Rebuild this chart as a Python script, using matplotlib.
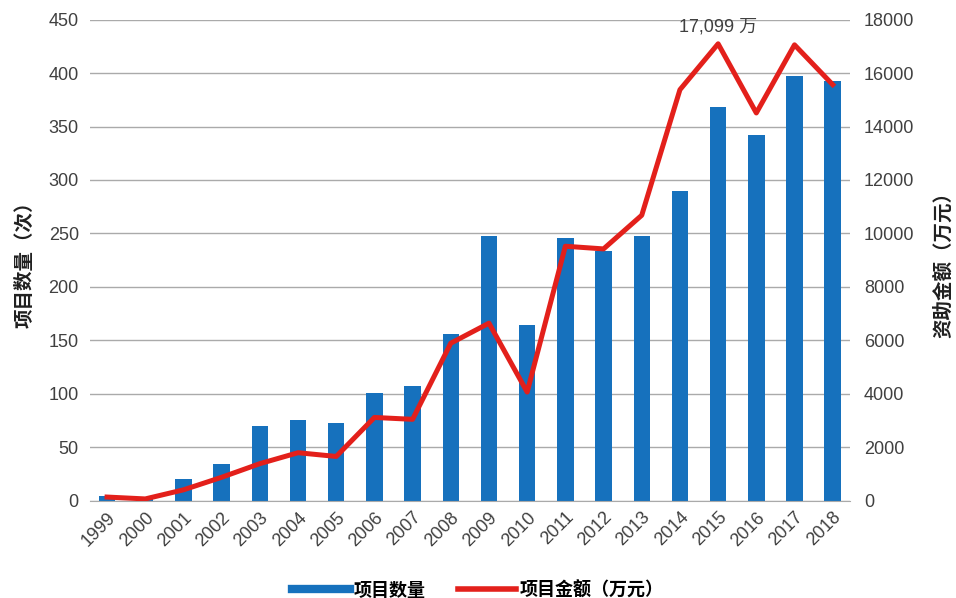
import matplotlib.pyplot as plt
import numpy as np
from matplotlib.lines import Line2D

plt.rcParams['font.family'] = ['Liberation Sans', 'Noto Sans CJK SC', 'DejaVu Sans']

years = [str(y) for y in range(1999, 2019)]
counts = [4, 1, 20, 34, 70, 75, 73, 101, 107, 156, 248, 164, 246, 234, 248,
          290, 368, 342, 397, 393]
funding = [130, 60, 400, 870, 1380, 1790, 1650, 3110, 3040, 5890, 6640, 4060,
           9520, 9420, 10680, 15380, 17099, 14510, 17060, 15570]

bar_color = '#1671bd'
line_color = '#e3201b'
text_color = '#404040'
cjk = ['Noto Sans CJK SC', 'DejaVu Sans']

fig = plt.figure(figsize=(9.56, 5.98), dpi=100)
ax = fig.add_axes([0.094, 0.163, 0.795, 0.804])
ax2 = ax.twinx()

x = np.arange(len(years))
ax.bar(x, counts, width=0.43, color=bar_color, zorder=2)
ax2.plot(x, funding, color=line_color, lw=3.6, zorder=3)

ax.set_ylim(0, 450)
ax.set_yticks(np.arange(0, 451, 50))
ax2.set_ylim(0, 18000)
ax2.set_yticks(np.arange(0, 18001, 2000))
ax.set_xlim(-0.45, len(years) - 0.55)
ax.set_xticks(x)
ax.set_xticklabels(years, rotation=45, ha='right', rotation_mode='anchor')

ax.grid(axis='y', color='#aaaaaa', lw=1, zorder=0)
ax.set_axisbelow(True)
for a in (ax, ax2):
    for s in a.spines.values():
        s.set_visible(False)
    a.tick_params(length=0, labelsize=13, colors=text_color)
ax.spines['bottom'].set_visible(True)
ax.spines['bottom'].set_color('#aaaaaa')
ax.tick_params(axis='x', pad=6)
ax2.tick_params(axis='y', pad=10)
ax.tick_params(axis='y', pad=8)

ax.set_ylabel('项目数量（次）', fontsize=14, color='#202020', labelpad=10,
              family=cjk, fontweight='bold')
ax2.set_ylabel('资助金额（万元）', fontsize=14, color='#202020', labelpad=14,
               family=cjk, fontweight='bold')

ax2.annotate('17,099 万', xy=(16, 17099), xytext=(0, 6), textcoords='offset points',
             ha='center', va='bottom', fontsize=13, color=text_color)

handles = [Line2D([], [], color=bar_color, lw=6),
           Line2D([], [], color=line_color, lw=4)]
fig.legend(handles, ['项目数量', '项目金额（万元）'], loc='lower center',
           bbox_to_anchor=(0.5, -0.03), ncol=2, frameon=False,
           prop={'family': cjk, 'size': 13, 'weight': 'bold'},
           handlelength=3.2, columnspacing=1.8, handletextpad=0.2)

fig.savefig('out.png', dpi=100)
